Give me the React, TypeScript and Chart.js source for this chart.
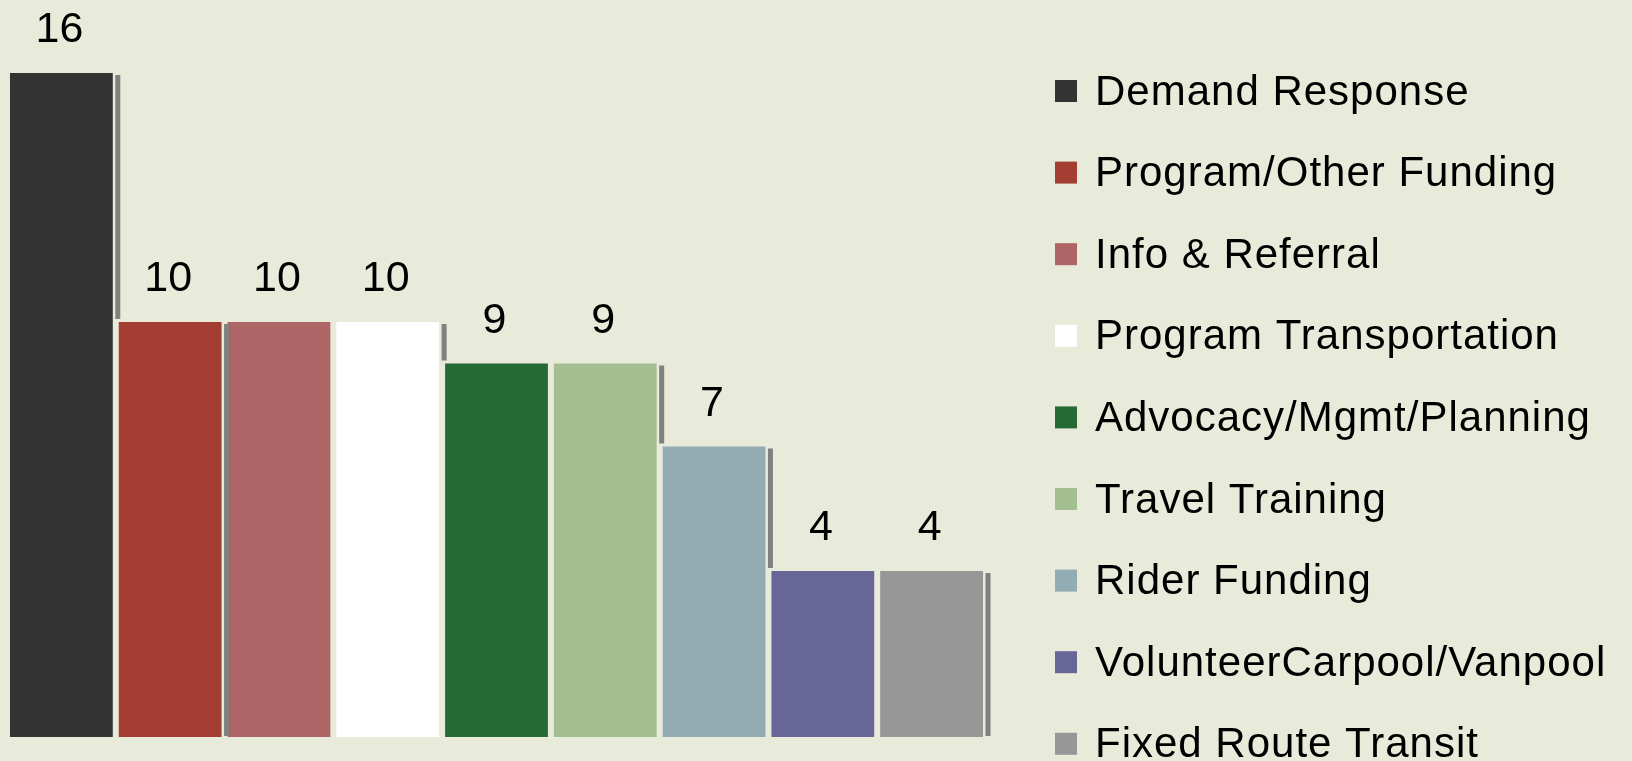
import React, { useEffect, useRef } from "react";
import { Chart, registerables } from "chart.js";

Chart.register(...registerables);

const categories = [
  "Demand Response",
  "Program/Other Funding",
  "Info & Referral",
  "Program Transportation",
  "Advocacy/Mgmt/Planning",
  "Travel Training",
  "Rider Funding",
  "VolunteerCarpool/Vanpool",
  "Fixed Route Transit",
];
const values = [16, 10, 10, 10, 9, 9, 7, 4, 4];
const colors = [
  "#333333",
  "#A43E33",
  "#AD6566",
  "#FFFFFF",
  "#256A35",
  "#A3BF91",
  "#93ABB2",
  "#676697",
  "#979797",
];
// gray edge line drawn to the right of some bars: to next bar top, to base, or none
const edgeLines: (string | null)[] = ["next", "base", null, "next", null, "next", "next", null, "base"];

const BG = "#E8EBD9";
const FONT = '"Liberation Sans", Arial, sans-serif';

const edgePlugin = {
  id: "edgeLines",
  afterDatasetsDraw(chart: any) {
    const ctx = chart.ctx;
    const yScale = chart.scales.y;
    const base = yScale.getPixelForValue(0);
    ctx.save();
    ctx.strokeStyle = "#808080";
    ctx.lineWidth = 5;
    edgeLines.forEach((mode, i) => {
      if (!mode) return;
      const bar = chart.getDatasetMeta(i).data[0] as any;
      if (!bar) return;
      const x = bar.x + bar.width / 2 + 5;
      const y1 = bar.y + 2;
      let y2 = base - 1;
      if (mode === "next" && i + 1 < values.length) {
        const nb = chart.getDatasetMeta(i + 1).data[0] as any;
        y2 = nb.y - 3;
      }
      ctx.beginPath();
      ctx.moveTo(x, y1);
      ctx.lineTo(x, y2);
      ctx.stroke();
    });
    ctx.restore();
  },
};

const valueLabelPlugin = {
  id: "valueLabels",
  afterDatasetsDraw(chart: any) {
    const ctx = chart.ctx;
    ctx.save();
    ctx.fillStyle = "#000000";
    ctx.font = `43px ${FONT}`;
    ctx.textAlign = "center";
    ctx.textBaseline = "alphabetic";
    chart.data.datasets.forEach((ds: any, i: number) => {
      const bar = chart.getDatasetMeta(i).data[0] as any;
      if (!bar) return;
      ctx.fillText(String(ds.data[0]), bar.x - 2, bar.y - 31);
    });
    ctx.restore();
  },
};

const sideLegendPlugin = {
  id: "sideLegend",
  afterDraw(chart: any) {
    const ctx = chart.ctx;
    const o = chart.options.plugins.sideLegend;
    ctx.save();
    ctx.font = `42px ${FONT}`;
    try {
      (ctx as any).letterSpacing = "1px";
    } catch (e) {}
    ctx.textAlign = "left";
    ctx.textBaseline = "middle";
    chart.data.datasets.forEach((ds: any, i: number) => {
      const cy = o.top + i * o.spacing;
      ctx.fillStyle = ds.backgroundColor;
      ctx.fillRect(o.left, cy - o.box / 2, o.box, o.box);
      ctx.fillStyle = "#000000";
      ctx.fillText(ds.label, o.textLeft, cy + 2);
    });
    ctx.restore();
  },
};

export default function App() {
  const canvasRef = useRef<HTMLCanvasElement | null>(null);

  useEffect(() => {
    const canvas = canvasRef.current;
    if (!canvas) return;
    const chart = new Chart(canvas, {
      type: "bar",
      data: {
        labels: [""],
        datasets: categories.map((name, i) => ({
          label: name,
          data: [values[i]],
          backgroundColor: colors[i],
          borderWidth: 0,
          categoryPercentage: 1,
          barPercentage: 0.945,
        })),
      },
      options: {
        animation: false,
        responsive: false,
        maintainAspectRatio: false,
        layout: { padding: { left: 7, right: 646, top: 73, bottom: 24 } },
        scales: {
          x: { display: false, grid: { display: false } },
          y: { display: false, min: 0, max: 16, grid: { display: false } },
        },
        plugins: {
          legend: { display: false },
          tooltip: { enabled: false },
          title: { display: false },
          sideLegend: { left: 1055, textLeft: 1095, top: 91, spacing: 81.6, box: 22 },
        } as any,
      },
      plugins: [edgePlugin, valueLabelPlugin, sideLegendPlugin],
    });
    return () => chart.destroy();
  }, []);

  return (
    <div
      style={{
        position: "fixed",
        left: 0,
        top: 0,
        width: 1632,
        height: 761,
        background: BG,
        overflow: "hidden",
      }}
    >
      <canvas ref={canvasRef} width={1632} height={761} style={{ display: "block", width: 1632, height: 761 }} />
    </div>
  );
}
